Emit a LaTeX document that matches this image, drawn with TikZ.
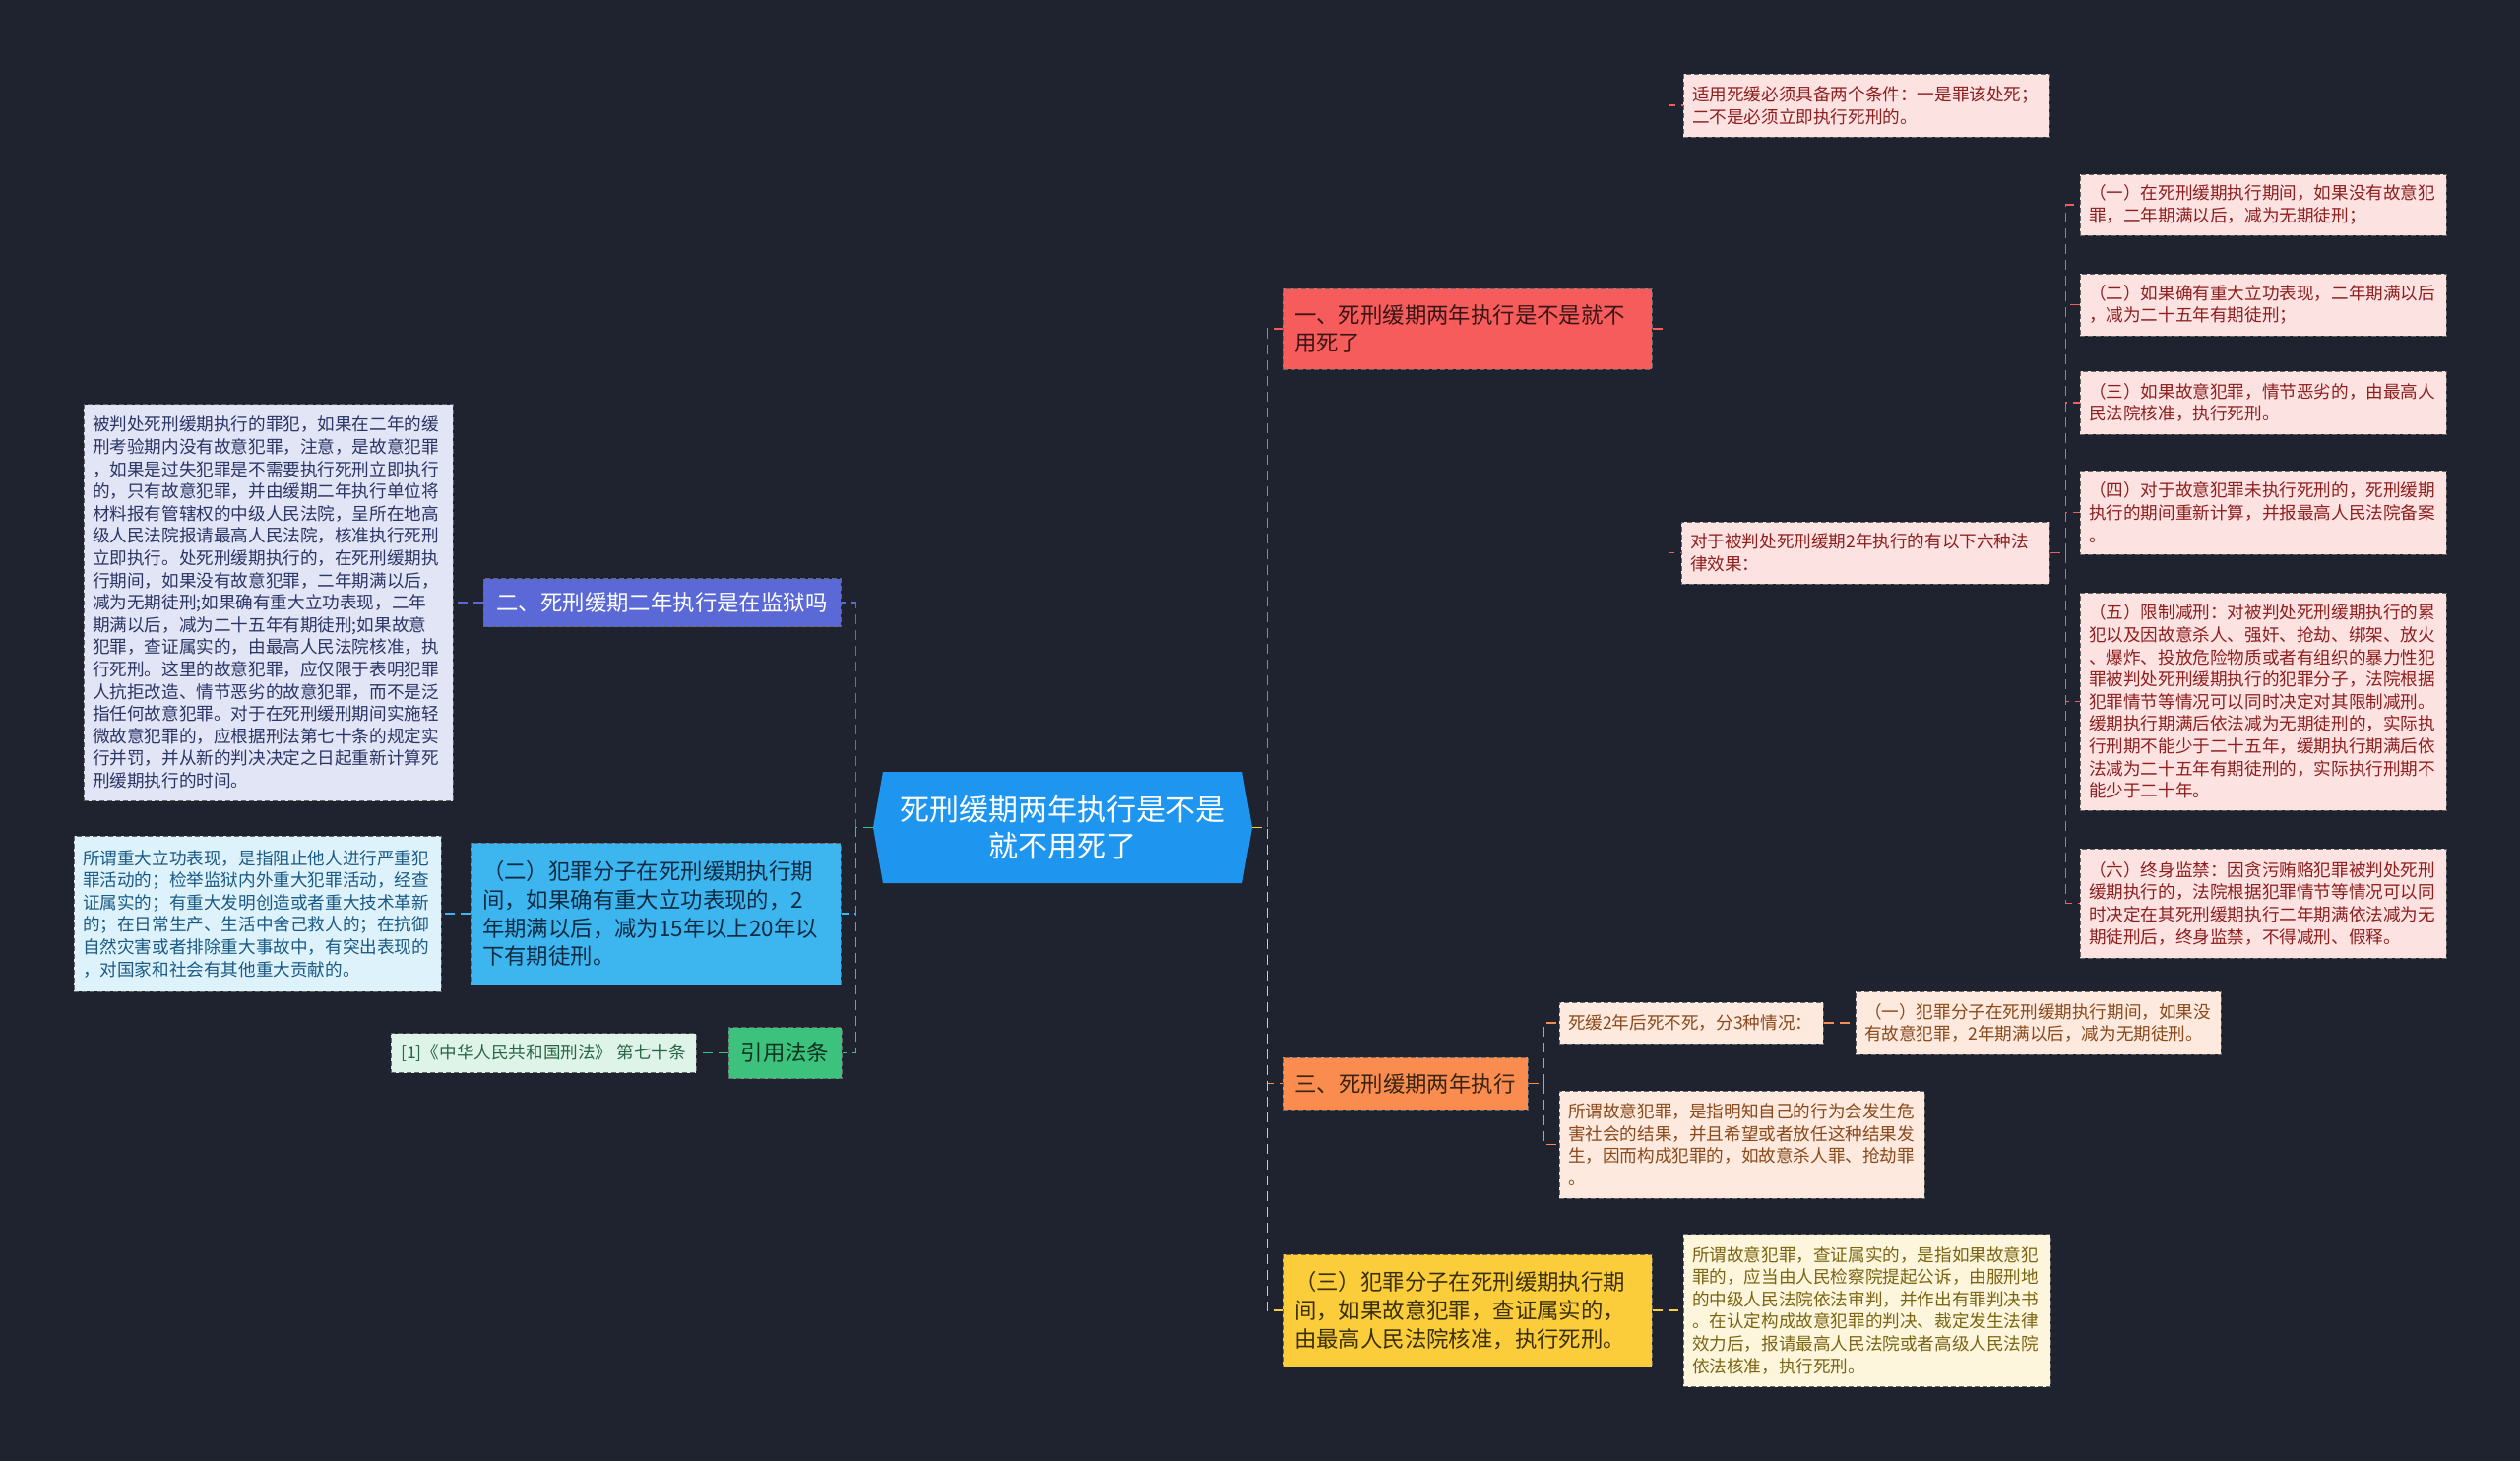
\documentclass[tikz,border=0pt]{standalone}
\usepackage{fontspec}
\setmainfont{Noto Sans CJK SC}
\usetikzlibrary{shapes.symbols}
\definecolor{bgcol}{HTML}{1F2330}
\definecolor{centreblue}{HTML}{1E96EF}
\definecolor{myred}{HTML}{F75C5C}
\definecolor{redtext}{HTML}{3A1515}
\definecolor{mypink}{HTML}{FDE2E2}
\definecolor{pinktext}{HTML}{8E1F1F}
\definecolor{myorange}{HTML}{F98C4E}
\definecolor{orangetext}{HTML}{3A2412}
\definecolor{mypeach}{HTML}{FDE9DD}
\definecolor{peachtext}{HTML}{8A4A1C}
\definecolor{myyellow}{HTML}{FBCD3B}
\definecolor{yellowtext}{HTML}{3A3008}
\definecolor{mycream}{HTML}{FDF6DD}
\definecolor{creamtext}{HTML}{7A6512}
\definecolor{myindigo}{HTML}{5A69D6}
\definecolor{mylavender}{HTML}{E2E5F5}
\definecolor{lavendertext}{HTML}{2B3566}
\definecolor{mysky}{HTML}{3DB6F0}
\definecolor{skytext}{HTML}{0E2B42}
\definecolor{myice}{HTML}{DDF2FB}
\definecolor{icetext}{HTML}{1A5A86}
\definecolor{mygreen}{HTML}{3DC27D}
\definecolor{greentext}{HTML}{0E3320}
\definecolor{mymint}{HTML}{DFF4E9}
\definecolor{minttext}{HTML}{2A6646}
\tikzset{
  box/.style={draw=black!60, dash pattern=on 2.5pt off 1.5pt, line width=0.5pt, align=left,
              inner xsep=4.5pt, inner ysep=2pt, font=\fontsize{8.8}{11.3}\selectfont},
  topic/.style={box, inner xsep=6pt, font=\fontsize{11.2}{14.4}\selectfont},
  centre/.style={signal, signal to=west and east, signal pointer angle=160, fill=centreblue,
                 text=white, align=center, inner sep=2pt, font=\fontsize{15}{18.3}\selectfont},
  redtopic/.style={topic, fill=myred, text=redtext},
  pinkbox/.style={box, fill=mypink, text=pinktext},
  orangetopic/.style={topic, fill=myorange, text=orangetext},
  peachbox/.style={box, fill=mypeach, text=peachtext},
  yellowtopic/.style={topic, fill=myyellow, text=yellowtext},
  creambox/.style={box, fill=mycream, text=creamtext},
  indigotopic/.style={topic, fill=myindigo, text=white},
  lavenderbox/.style={box, fill=mylavender, text=lavendertext},
  skytopic/.style={topic, fill=mysky, text=skytext},
  icebox/.style={box, fill=myice, text=icetext},
  greentopic/.style={topic, fill=mygreen, text=greentext},
  mintbox/.style={box, fill=mymint, text=minttext},
  link/.style={dash pattern=on 5pt off 3pt, line width=0.75pt},
}
\begin{document}
\begin{tikzpicture}[x=0.5pt, y=-0.5pt]
  \fill[bgcol] (0,0) rectangle (2560,1484);
  \useasboundingbox (0,0) rectangle (2560,1484);
  \node[centre, minimum width=192.5pt, minimum height=56.5pt] (c) at (1079.5,840.5) {死刑缓期两年执行是不是\\就不用死了};

  \node[redtopic, text width=175.5pt, minimum height=41pt] (b1) at (1490.5,334) {一、死刑缓期两年执行是不是就不\\用死了};
  \node[pinkbox, text width=177pt, minimum height=32pt] (r0) at (1896,107) {适用死缓必须具备两个条件：一是罪该处死；\\二不是必须立即执行死刑的。};
  \node[pinkbox, text width=178pt, minimum height=31.5pt] (r7) at (1895,561.5) {对于被判处死刑缓期2年执行的有以下六种法\\律效果：};
  \node[pinkbox, text width=177pt, minimum height=31pt] (s1) at (2299,208) {（一）在死刑缓期执行期间，如果没有故意犯\\罪，二年期满以后，减为无期徒刑；};
  \node[pinkbox, text width=177pt, minimum height=31.5pt] (s2) at (2299,309.5) {（二）如果确有重大立功表现，二年期满以后\\，减为二十五年有期徒刑；};
  \node[pinkbox, text width=177pt, minimum height=32pt] (s3) at (2299,409) {（三）如果故意犯罪，情节恶劣的，由最高人\\民法院核准，执行死刑。};
  \node[pinkbox, text width=177pt, minimum height=42.5pt] (s4) at (2299,520.5) {（四）对于故意犯罪未执行死刑的，死刑缓期\\执行的期间重新计算，并报最高人民法院备案\\。};
  \node[pinkbox, text width=177pt, minimum height=110.5pt] (s5) at (2299,712.5) {（五）限制减刑：对被判处死刑缓期执行的累\\犯以及因故意杀人、强奸、抢劫、绑架、放火\\、爆炸、投放危险物质或者有组织的暴力性犯\\罪被判处死刑缓期执行的犯罪分子，法院根据\\犯罪情节等情况可以同时决定对其限制减刑。\\缓期执行期满后依法减为无期徒刑的，实际执\\行刑期不能少于二十五年，缓期执行期满后依\\法减为二十五年有期徒刑的，实际执行刑期不\\能少于二十年。};
  \node[pinkbox, text width=177pt, minimum height=55.5pt] (s6) at (2299,917.5) {（六）终身监禁：因贪污贿赂犯罪被判处死刑\\缓期执行的，法院根据犯罪情节等情况可以同\\时决定在其死刑缓期执行二年期满依法减为无\\期徒刑后，终身监禁，不得减刑、假释。};

  \node[orangetopic, minimum width=124.5pt, minimum height=26.5pt] (o) at (1427.5,1100.5) {三、死刑缓期两年执行};
  \node[peachbox, text width=125pt, minimum height=21pt] (o1) at (1718,1039) {死缓2年后死不死，分3种情况：};
  \node[peachbox, text width=176.5pt, minimum height=32pt] (o1a) at (2070.5,1039) {（一）犯罪分子在死刑缓期执行期间，如果没\\有故意犯罪，2年期满以后，减为无期徒刑。};
  \node[peachbox, text width=176.5pt, minimum height=54.5pt] (o2) at (1769.5,1162.5) {所谓故意犯罪，是指明知自己的行为会发生危\\害社会的结果，并且希望或者放任这种结果发\\生，因而构成犯罪的，如故意杀人罪、抢劫罪\\。};

  \node[yellowtopic, text width=175.5pt, minimum height=57pt] (y) at (1490.5,1331) {（三）犯罪分子在死刑缓期执行期\\间，如果故意犯罪，查证属实的，\\由最高人民法院核准，执行死刑。};
  \node[creambox, text width=177.5pt, minimum height=77.5pt] (y1) at (1896.5,1331) {所谓故意犯罪，查证属实的，是指如果故意犯\\罪的，应当由人民检察院提起公诉，由服刑地\\的中级人民法院依法审判，并作出有罪判决书\\。在认定构成故意犯罪的判决、裁定发生法律\\效力后，报请最高人民法院或者高级人民法院\\依法核准，执行死刑。};

  \node[indigotopic, minimum width=181.5pt, minimum height=24.5pt] (p) at (672.5,612) {二、死刑缓期二年执行是在监狱吗};
  \node[lavenderbox, text width=178.5pt, minimum height=201.5pt] (pl) at (272.5,612) {被判处死刑缓期执行的罪犯，如果在二年的缓\\刑考验期内没有故意犯罪，注意，是故意犯罪\\，如果是过失犯罪是不需要执行死刑立即执行\\的，只有故意犯罪，并由缓期二年执行单位将\\材料报有管辖权的中级人民法院，呈所在地高\\级人民法院报请最高人民法院，核准执行死刑\\立即执行。处死刑缓期执行的，在死刑缓期执\\行期间，如果没有故意犯罪，二年期满以后，\\减为无期徒刑;如果确有重大立功表现，二年\\期满以后，减为二十五年有期徒刑;如果故意\\犯罪，查证属实的，由最高人民法院核准，执\\行死刑。这里的故意犯罪，应仅限于表明犯罪\\人抗拒改造、情节恶劣的故意犯罪，而不是泛\\指任何故意犯罪。对于在死刑缓刑期间实施轻\\微故意犯罪的，应根据刑法第七十条的规定实\\行并罚，并从新的判决决定之日起重新计算死\\刑缓期执行的时间。};
  \node[skytopic, text width=176pt, minimum height=72pt] (q) at (666,928) {（二）犯罪分子在死刑缓期执行期\\间，如果确有重大立功表现的，2\\年期满以后，减为15年以上20年以\\下有期徒刑。};
  \node[icebox, text width=177.5pt, minimum height=79pt] (ql) at (261.5,928) {所谓重大立功表现，是指阻止他人进行严重犯\\罪活动的；检举监狱内外重大犯罪活动，经查\\证属实的；有重大发明创造或者重大技术革新\\的；在日常生产、生活中舍己救人的；在抗御\\自然灾害或者排除重大事故中，有突出表现的\\，对国家和社会有其他重大贡献的。};
  \node[greentopic, minimum width=57.5pt, minimum height=26pt] (g) at (797.5,1069.5) {引用法条};
  \node[mintbox, minimum width=155pt, minimum height=20pt] (gl) at (552,1069.5) {[1]《中华人民共和国刑法》 第七十条};

  \draw[link, myred] (c.east) -- ++(15,0) |- (b1.west);
  \draw[link, myorange] (c.east) -- ++(15,0) |- (o.west);
  \draw[link, myyellow] (c.east) -- ++(15,0) |- (y.west);
  \draw[link, myindigo] (c.west) -- ++(-17,0) |- (p.east);
  \draw[link, mysky] (c.west) -- ++(-17,0) |- (q.east);
  \draw[link, mygreen] (c.west) -- ++(-17,0) |- (g.east);
  \draw[link, myred] (b1.east) -- ++(17,0) |- (r0.west);
  \draw[link, myred] (b1.east) -- ++(17,0) |- (r7.west);
  \foreach \n in {s1,s2,s3,s4,s5,s6}
    \draw[link, myred] (r7.east) -- ++(16,0) |- (\n.west);
  \draw[link, myorange] (o.east) -- ++(16,0) |- (o1.west);
  \draw[link, myorange] (o.east) -- ++(16,0) |- (o2.west);
  \draw[link, myorange] (o1.east) -- (o1a.west);
  \draw[link, myyellow] (y.east) -- (y1.west);
  \draw[link, myindigo] (p.west) -- (pl.east);
  \draw[link, mysky] (q.west) -- (ql.east);
  \draw[link, mygreen] (g.west) -- (gl.east);
\end{tikzpicture}
\end{document}
